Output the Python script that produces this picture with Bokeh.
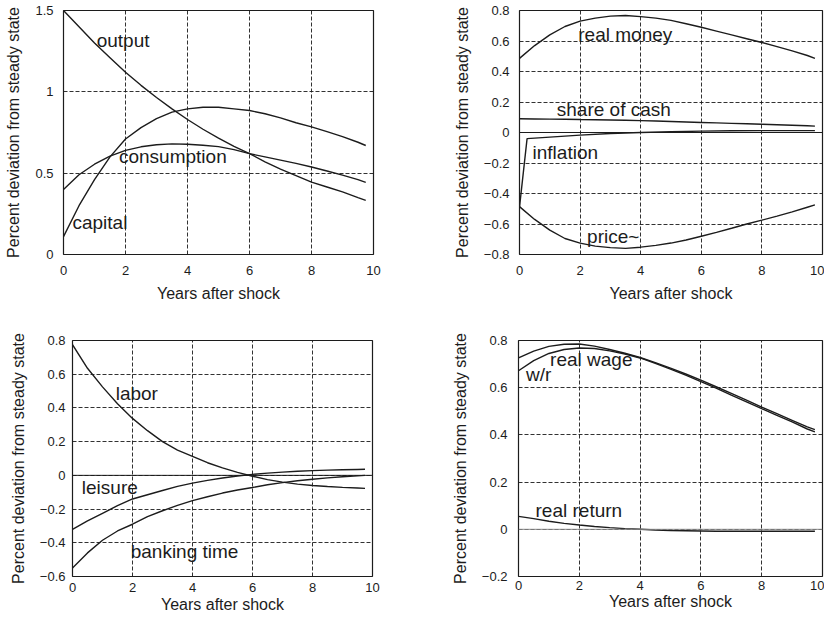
from bokeh.plotting import figure
from bokeh.layouts import column, row
from bokeh.models import Range1d, FixedTicker, Span
from bokeh.core.properties import value
from bokeh.embed import file_html
from bokeh.resources import INLINE

# ---------------- data ----------------
X = [0, 0.5, 1, 1.5, 2, 2.5, 3, 3.5, 4, 4.5, 5, 5.5, 6, 6.5, 7, 7.5, 8, 8.5, 9, 9.5, 9.75]

# panel 1
output = [1.50, 1.40, 1.30, 1.21, 1.12, 1.04, 0.965, 0.895, 0.83, 0.77, 0.715, 0.665, 0.62,
          0.57, 0.525, 0.485, 0.445, 0.415, 0.385, 0.35, 0.333]
capital = [0.11, 0.30, 0.46, 0.60, 0.71, 0.78, 0.835, 0.875, 0.895, 0.905, 0.905, 0.895, 0.885,
           0.865, 0.84, 0.81, 0.785, 0.755, 0.725, 0.69, 0.67]
consumption = [0.40, 0.49, 0.555, 0.605, 0.64, 0.662, 0.675, 0.68, 0.678, 0.672, 0.663, 0.645, 0.62,
               0.60, 0.58, 0.56, 0.538, 0.513, 0.488, 0.46, 0.443]

# panel 2
real_money = [0.486, 0.57, 0.64, 0.695, 0.73, 0.75, 0.763, 0.767, 0.76, 0.75, 0.735, 0.713, 0.69,
              0.665, 0.64, 0.615, 0.59, 0.563, 0.535, 0.505, 0.486]
price = [-0.486, -0.57, -0.64, -0.695, -0.725, -0.745, -0.755, -0.76, -0.752, -0.74, -0.725, -0.705,
         -0.68, -0.655, -0.628, -0.60, -0.575, -0.548, -0.52, -0.49, -0.475]
share_cash = [0.09, 0.089, 0.088, 0.087, 0.085, 0.084, 0.082, 0.08, 0.078, 0.075, 0.072, 0.069, 0.066,
              0.063, 0.06, 0.057, 0.054, 0.051, 0.048, 0.044, 0.042]
X_INFL = [0, 0.25, 1, 2, 3, 4, 5, 6, 7, 8, 9, 9.75]
inflation = [-0.49, -0.04, -0.03, -0.017, -0.007, 0.0, 0.005, 0.009, 0.011, 0.012, 0.012, 0.012]

# panel 3
labor = [0.775, 0.635, 0.525, 0.425, 0.338, 0.265, 0.20, 0.15, 0.113, 0.075, 0.044, 0.018, -0.005,
         -0.025, -0.04, -0.052, -0.06, -0.066, -0.071, -0.075, -0.077]
leisure = [-0.32, -0.27, -0.225, -0.18, -0.14, -0.115, -0.09, -0.065, -0.046, -0.03, -0.016, -0.004,
           0.006, 0.013, 0.019, 0.024, 0.028, 0.031, 0.033, 0.035, 0.036]
banking_time = [-0.55, -0.46, -0.385, -0.33, -0.29, -0.245, -0.21, -0.178, -0.15, -0.127, -0.105,
                -0.087, -0.072, -0.056, -0.043, -0.032, -0.023, -0.015, -0.008, -0.003, 0.0]

# panel 4
real_wage = [0.726, 0.755, 0.775, 0.784, 0.785, 0.776, 0.762, 0.746, 0.728, 0.706, 0.683, 0.658,
             0.632, 0.604, 0.576, 0.547, 0.518, 0.49, 0.462, 0.434, 0.422]
w_over_r = [0.672, 0.715, 0.745, 0.762, 0.768, 0.766, 0.756, 0.743, 0.726, 0.703, 0.679, 0.653,
            0.626, 0.598, 0.569, 0.54, 0.511, 0.483, 0.455, 0.425, 0.413]
real_return = [0.055, 0.045, 0.034, 0.025, 0.018, 0.012, 0.007, 0.003, 0.0, -0.003, -0.005, -0.006,
               -0.007, -0.008, -0.008, -0.008, -0.008, -0.008, -0.008, -0.008, -0.008]

X_TICKS = [0, 2, 4, 6, 8, 10]
X_TICK_LABELS = ["0", "2", "4", "6", "8", "10"]
Y1_TICKS = [0, 0.5, 1, 1.5]
Y1_TICK_LABELS = ["0", "0.5", "1", "1.5"]
Y2_TICKS = [-0.8, -0.6, -0.4, -0.2, 0, 0.2, 0.4, 0.6, 0.8]
Y2_TICK_LABELS = ["\u22120.8", "\u22120.6", "\u22120.4", "\u22120.2", "0", "0.2", "0.4", "0.6", "0.8"]
Y3_TICKS = [-0.6, -0.4, -0.2, 0, 0.2, 0.4, 0.6, 0.8]
Y3_TICK_LABELS = ["\u22120.6", "\u22120.4", "\u22120.2", "0", "0.2", "0.4", "0.6", "0.8"]
Y4_TICKS = [-0.2, 0, 0.2, 0.4, 0.6, 0.8]
Y4_TICK_LABELS = ["\u22120.2", "0", "0.2", "0.4", "0.6", "0.8"]

X_LABEL = "Years after shock"
Y_LABEL = "Percent deviation from steady state"

# labels: (text, x, y)
P1_LABELS = [("output", 1.07, 1.316), ("consumption", 1.79, 0.60), ("capital", 0.29, 0.194)]
P2_LABELS = [("real money", 1.94, 0.642), ("share of cash", 1.23, 0.152),
             ("inflation", 0.43, -0.132), ("price~", 2.23, -0.684)]
P3_LABELS = [("labor", 1.44, 0.483), ("leisure", 0.31, -0.071), ("banking time", 1.94, -0.451)]
P4_LABELS = [("real wage", 1.04, 0.721), ("w/r", 0.25, 0.654), ("real return", 0.56, 0.080)]

FONT = "Liberation Sans"
INK = "#1c1c1c"


def make_panel(w, h, borders, ylo, yhi, yticks, ylabels, y_standoff, x_standoff, xl_standoff):
    p = figure(width=w, height=h, output_backend="svg", toolbar_location=None,
               x_range=Range1d(0, 10), y_range=Range1d(ylo, yhi),
               min_border_left=borders[0], min_border_right=borders[1],
               min_border_top=borders[2], min_border_bottom=borders[3])
    p.background_fill_color = "white"
    p.border_fill_color = "white"
    p.outline_line_color = INK
    p.outline_line_width = 1.2
    p.xaxis.ticker = FixedTicker(ticks=X_TICKS)
    p.yaxis.ticker = FixedTicker(ticks=yticks)
    p.xaxis.major_label_overrides = {t: s for t, s in zip(X_TICKS, X_TICK_LABELS)}
    p.yaxis.major_label_overrides = {t: s for t, s in zip(yticks, ylabels)}
    for ax in (p.xaxis, p.yaxis):
        ax.axis_line_color = None
        ax.major_tick_line_color = None
        ax.minor_tick_line_color = None
        ax.major_tick_out = 0
        ax.major_tick_in = 0
        ax.major_label_text_font = FONT
        ax.major_label_text_font_size = "13px"
        ax.major_label_text_color = INK
        ax.axis_label_text_font = FONT
        ax.axis_label_text_font_size = "16px"
        ax.axis_label_text_font_style = "normal"
        ax.axis_label_text_color = INK
    p.xaxis.axis_label = X_LABEL
    p.yaxis.axis_label = Y_LABEL
    p.yaxis.major_label_standoff = y_standoff
    p.yaxis.axis_label_standoff = 10
    p.xaxis.major_label_standoff = x_standoff
    p.xaxis.axis_label_standoff = xl_standoff
    for g in (p.xgrid, p.ygrid):
        g.grid_line_color = INK
        g.grid_line_dash = "4 2"
        g.grid_line_width = 1
        g.grid_line_alpha = 0.9
    return p


def add_labels(p, labels):
    p.text(x=[l[1] for l in labels], y=[l[2] for l in labels], text=[l[0] for l in labels],
           text_font=value(FONT), text_font_size="19px", text_color=INK,
           text_align="left", text_baseline="middle")


LW = 1.4

p1 = make_panel(420, 310, (63, 47, 10, 56), 0, 1.5, Y1_TICKS, Y1_TICK_LABELS, 10, 11, 7)
for s in (output, capital, consumption):
    p1.line(X, s, line_color=INK, line_width=LW)
add_labels(p1, P1_LABELS)

p2 = make_panel(404, 310, (99, 2, 10, 56), -0.8, 0.8, Y2_TICKS, Y2_TICK_LABELS, 10, 11, 7)
p2.add_layout(Span(location=0, dimension="width", line_color=INK, line_width=1))
for s in (real_money, price, share_cash):
    p2.line(X, s, line_color=INK, line_width=LW)
p2.line(X_INFL, inflation, line_color=INK, line_width=LW)
add_labels(p2, P2_LABELS)

p3 = make_panel(420, 309, (72, 48, 30, 43), -0.6, 0.8, Y3_TICKS, Y3_TICK_LABELS, 7, 6, 1)
p3.add_layout(Span(location=0, dimension="width", line_color=INK, line_width=1))
for s in (labor, leisure, banking_time):
    p3.line(X, s, line_color=INK, line_width=LW)
add_labels(p3, P3_LABELS)

p4 = make_panel(404, 309, (98, 2, 30, 39), -0.2, 0.8, Y4_TICKS, Y4_TICK_LABELS, 11, 4, 0)
p4.add_layout(Span(location=0, dimension="width", line_color="#8a8a8a", line_width=1))
for s in (real_wage, w_over_r, real_return):
    p4.line(X, s, line_color=INK, line_width=LW)
add_labels(p4, P4_LABELS)

layout = column(row(p1, p2), row(p3, p4))
open("out.html", "w").write(file_html(layout, INLINE))
